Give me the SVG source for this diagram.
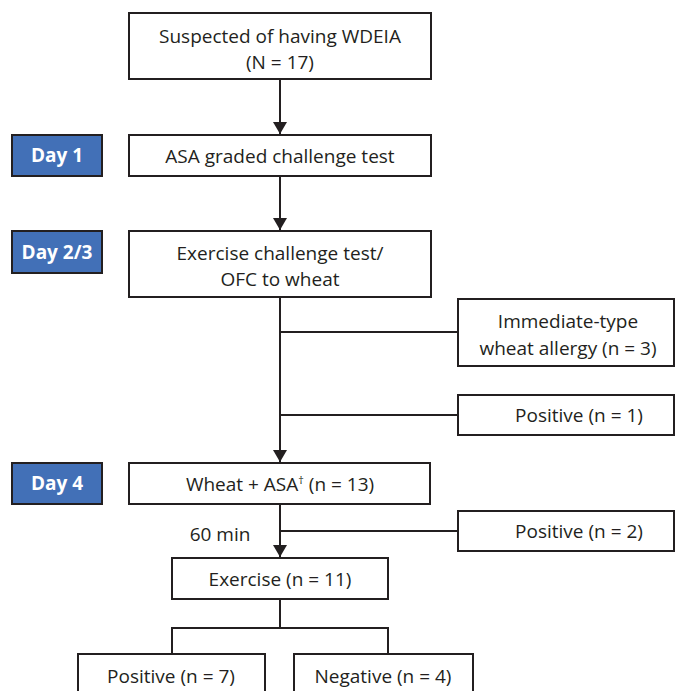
<svg xmlns="http://www.w3.org/2000/svg" width="675" height="691" viewBox="0 0 675 691">
<defs>
<style>
.box{fill:#fff;stroke:#231f20;stroke-width:2}
.day{fill:#4270b7;stroke:#231f20;stroke-width:2}
.t{font-family:"Open Sans","Liberation Sans",sans-serif;font-size:19px;fill:#231f20;text-anchor:middle}
.d{font-family:"Open Sans","Liberation Sans",sans-serif;font-size:19px;font-weight:bold;fill:#fff;text-anchor:middle}
.ln{stroke:#231f20;stroke-width:2;fill:none}
</style>
<marker id="ah" viewBox="0 0 12 14" refX="12" refY="7" markerWidth="12" markerHeight="14" markerUnits="userSpaceOnUse" orient="auto">
<path d="M0,0 L12,7 L0,14 Z" fill="#231f20"/>
</marker>
</defs>
<g id="connectors">
<line class="ln" x1="280" y1="80" x2="280" y2="134" marker-end="url(#ah)"/>
<line class="ln" x1="280" y1="176" x2="280" y2="230" marker-end="url(#ah)"/>
<line class="ln" x1="280" y1="297" x2="280" y2="462" marker-end="url(#ah)"/>
<line class="ln" x1="280" y1="332" x2="458" y2="332"/>
<line class="ln" x1="280" y1="415" x2="458" y2="415"/>
<line class="ln" x1="280" y1="504" x2="280" y2="557" marker-end="url(#ah)"/>
<line class="ln" x1="280" y1="531" x2="458" y2="531"/>
<polyline class="ln" points="280,599 280,628"/>
<polyline class="ln" points="172,654 172,628 388,628 388,654"/>
</g>
<g id="n_start"><rect class="box" x="129" y="13" width="302" height="66"/><text class="t" x="280" y="43">Suspected of having WDEIA</text><text class="t" x="280" y="69">(N = 17)</text></g>
<g id="day1"><rect class="day" x="12" y="135" width="90" height="41"/><text class="d" x="57" y="162">Day 1</text></g>
<g id="n_asa"><rect class="box" x="129" y="135" width="302" height="41"/><text class="t" x="280" y="163">ASA graded challenge test</text></g>
<g id="day23"><rect class="day" x="12" y="231" width="90" height="42"/><text class="d" x="57" y="259">Day 2/3</text></g>
<g id="n_exch"><rect class="box" x="129" y="231" width="302" height="66"/><text class="t" x="280" y="260">Exercise challenge test/</text><text class="t" x="280" y="286">OFC to wheat</text></g>
<g id="n_imm"><rect class="box" x="458" y="299" width="216" height="67"/><text class="t" x="568" y="328">Immediate-type</text><text class="t" x="568" y="355">wheat allergy (n = 3)</text></g>
<g id="n_pos1"><rect class="box" x="458" y="395" width="216" height="40"/><text class="t" x="579" y="422">Positive (n = 1)</text></g>
<g id="day4"><rect class="day" x="12" y="463" width="90" height="41"/><text class="d" x="57" y="490">Day 4</text></g>
<g id="n_wheat"><rect class="box" x="129" y="463" width="301" height="41"/><text class="t" x="280" y="491">Wheat + ASA<tspan font-size="11" dy="-7">†</tspan><tspan dy="7"> (n = 13)</tspan></text></g>
<text class="t" x="220" y="541">60 min</text>
<g id="n_pos2"><rect class="box" x="458" y="511" width="216" height="40"/><text class="t" x="579" y="538">Positive (n = 2)</text></g>
<g id="n_ex"><rect class="box" x="172" y="558" width="216" height="41"/><text class="t" x="280" y="586">Exercise (n = 11)</text></g>
<g id="n_pos7"><rect class="box" x="78" y="654" width="187" height="45"/><text class="t" x="171" y="683">Positive (n = 7)</text></g>
<g id="n_neg4"><rect class="box" x="294" y="654" width="179" height="45"/><text class="t" x="383" y="683">Negative (n = 4)</text></g>
</svg>
